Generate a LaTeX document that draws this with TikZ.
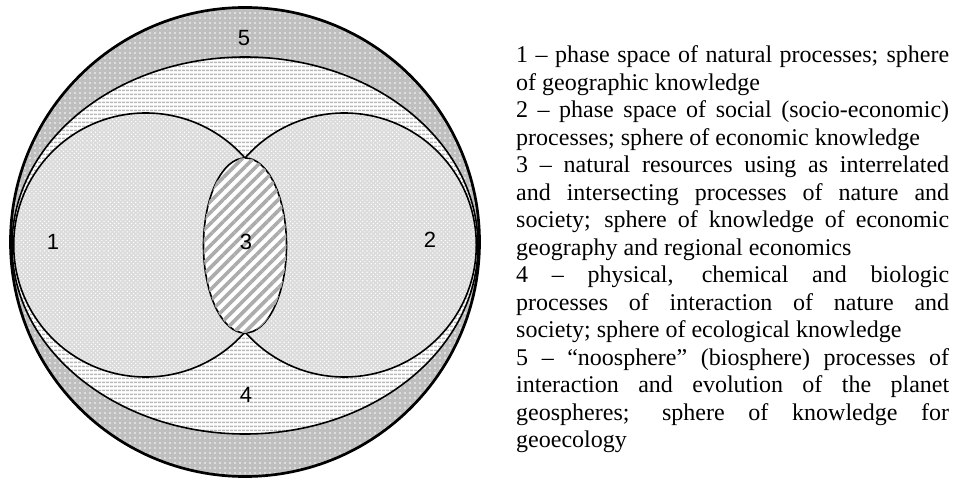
\documentclass[tikz,border=0pt]{standalone}
\usepackage{fontspec}
\setmainfont{Liberation Serif}
\newfontfamily\zonefont{Liberation Sans}
\usetikzlibrary{patterns.meta}
\tikzset{
  zone/.style={line width=1.6pt},
  dotzone/.style={fill=gray!50,postaction={pattern color=white,pattern={Dots[radius=.8pt,distance=5pt]}}},
  stripezone/.style={fill=white,postaction={pattern color=gray!55,pattern={Lines[distance=4pt,line width=2pt]}}},
  checkzone/.style={fill=gray!28,postaction={pattern color=white,pattern={Dots[radius=.8pt,distance=3pt,angle=45]}}},
  hatchzone/.style={fill=white,postaction={pattern color=gray!65,pattern={Lines[angle=45,distance=7.8pt,line width=3.6pt]}}},
  zonelabel/.style={font=\zonefont\fontsize{22}{24}\selectfont,inner sep=0pt}
}
\begin{document}
\begin{tikzpicture}[x=1pt,y=-1pt]
\useasboundingbox (0,0) rectangle (960,478);
% zones 5 and 4
\path[dotzone] (245,242) circle[radius=234.5pt];
\path[stripezone] (245,245.5) ellipse[x radius=233pt,y radius=188.5pt];
% zones 1 and 2
\path[checkzone] (145.7,245) circle[radius=132pt] (344.3,245) circle[radius=132pt];
\draw[zone] (245,245.5) ellipse[x radius=233pt,y radius=188.5pt];
\draw[zone] (145.7,245) circle[radius=132pt] (344.3,245) circle[radius=132pt];
\draw[line width=2.7pt] (245,242) circle[radius=234.5pt];
% zone 3
\draw[zone,hatchzone] (245,245.5) ellipse[x radius=41.5pt,y radius=87.5pt];
\node[zonelabel] (n1) at (53,242) {1};
\node[zonelabel] (n2) at (430,240) {2};
\node[zonelabel] (n3) at (246,242) {3};
\node[zonelabel] (n4) at (246,395) {4};
\node[zonelabel] (n5) at (244,38) {5};
\node[anchor=base west,inner sep=0pt] (legend) at (516,63) {\parbox[t]{433pt}{\fontsize{24}{27.5}\selectfont
\hbadness=10000 \tolerance=10000 \parindent=0pt \parskip=0pt
1 – phase space of natural processes; sphere\linebreak of geographic knowledge\par
2 – phase space of social (socio-economic)\linebreak processes; sphere of economic knowledge\par
3 – natural resources using as interrelated\linebreak and intersecting processes of nature and\linebreak society; sphere of knowledge of economic\linebreak geography and regional economics\par
4 – physical, chemical and biologic\linebreak processes of interaction of nature and\linebreak society; sphere of ecological knowledge\par
5 – “noosphere” (biosphere) processes of\linebreak interaction and evolution of the planet\linebreak geospheres; sphere of knowledge for\linebreak geoecology}};
\end{tikzpicture}
\end{document}
